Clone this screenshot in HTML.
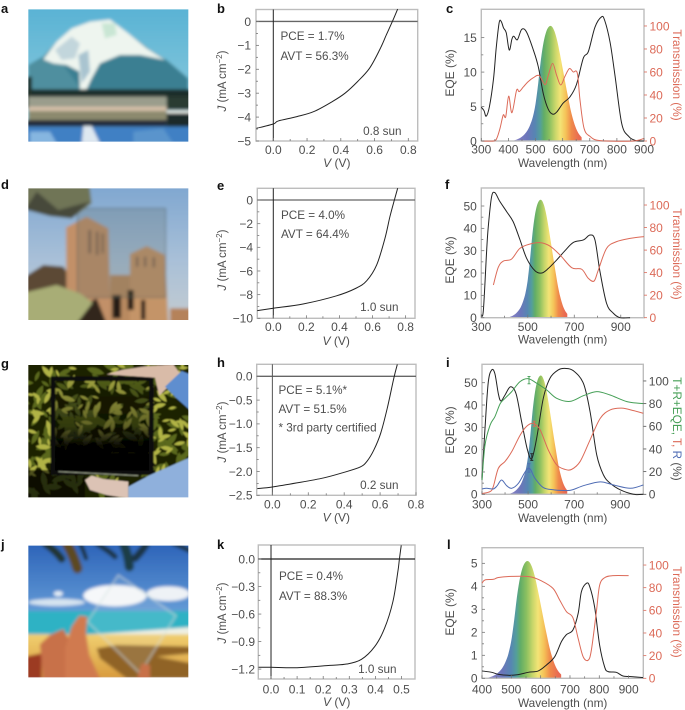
<!DOCTYPE html>
<html lang="en">
<head>
<meta charset="utf-8">
<title>Transparent solar cell panels</title>
<style>
html,body{margin:0;padding:0;background:#fff;width:685px;height:710px;overflow:hidden}
svg{display:block}
text{font-family:"Liberation Sans",sans-serif;fill:#4e4e4e}
</style>
</head>
<body>
<svg id="fig" xmlns="http://www.w3.org/2000/svg" width="685" height="710" viewBox="0 0 685 710">
<defs>
<filter id="soft" x="-5%" y="-5%" width="110%" height="110%"><feGaussianBlur stdDeviation="4.5"/></filter>
<filter id="softG" x="-5%" y="-5%" width="110%" height="110%"><feGaussianBlur stdDeviation="2.4"/></filter>
<clipPath id="clipA"><rect x="85" y="28" width="480" height="397"/></clipPath>
<clipPath id="clipD"><rect x="85" y="565" width="480" height="395"/></clipPath>
<clipPath id="clipG"><rect x="85" y="30" width="480" height="397"/></clipPath>
<clipPath id="clipJ"><rect x="85" y="572" width="480" height="395"/></clipPath>
<linearGradient id="skyA" x1="0" y1="0" x2="0" y2="1"><stop offset="0" stop-color="#58b2d4"/><stop offset="1" stop-color="#9cd2e0"/></linearGradient>
<linearGradient id="skyD" x1="0" y1="0" x2="0" y2="1"><stop offset="0" stop-color="#7ea6d0"/><stop offset=".55" stop-color="#a9c0d8"/><stop offset="1" stop-color="#c4ccd0"/></linearGradient>
<linearGradient id="skyJ" x1="0" y1="0" x2="0" y2="1"><stop offset="0" stop-color="#2b62b8"/><stop offset=".6" stop-color="#6ea6dc"/><stop offset="1" stop-color="#a8cfe6"/></linearGradient>
<linearGradient id="sandJ" x1="0" y1="0" x2="0" y2="1"><stop offset="0" stop-color="#f0cf70"/><stop offset="1" stop-color="#d89a3c"/></linearGradient>
<linearGradient id="darkInner" x1="0" y1="0" x2="0" y2="1"><stop offset="0" stop-color="#000" stop-opacity=".12"/><stop offset=".5" stop-color="#000" stop-opacity=".45"/><stop offset=".72" stop-color="#000" stop-opacity=".95"/><stop offset="1" stop-color="#000" stop-opacity="1"/></linearGradient>
</defs>

<g transform="scale(.33333)" clip-path="url(#clipA)">
<g filter="url(#soft)">
<rect x="70" y="15" width="510" height="425" fill="url(#skyA)"/>
<polygon points="85,195 130,170 170,125 215,85 270,65 330,58 385,100 450,150 500,180 565,235 565,285 85,285" fill="#3a7f92"/>
<polygon points="85,195 130,175 190,195 245,270 85,272" fill="#4f8f9f"/>
<polygon points="130,178 170,125 215,85 270,65 330,58 385,100 440,145 495,180 420,165 360,165 300,190 275,235 258,272 240,272 238,215 200,195 160,190" fill="#eef5ef"/>
<polygon points="165,150 215,110 240,130 225,175 185,180" fill="#c2d6dc"/>
<polygon points="305,70 345,70 350,105 315,115" fill="#c9e6d4"/>
<polygon points="235,165 265,150 270,215 245,250" fill="#a9c4d0"/>
<rect x="75" y="268" width="500" height="24" fill="#1f2e2c"/>
<rect x="78" y="230" width="18" height="95" fill="#20302c"/>
<rect x="85" y="290" width="415" height="32" fill="#9a9d8c"/>
<rect x="500" y="290" width="75" height="40" fill="#2a3a32"/>
<rect x="85" y="320" width="415" height="13" fill="#d4bfa8"/>
<rect x="500" y="332" width="75" height="8" fill="#f2f0e8"/>
<rect x="85" y="333" width="415" height="30" fill="#8c8a6e"/>
<rect x="500" y="340" width="75" height="50" fill="#1f2a2c"/>
<rect x="75" y="360" width="425" height="20" fill="#202c3a"/>
<rect x="75" y="380" width="500" height="55" fill="#3f80c4"/>
<polygon points="250,378 275,378 300,430 245,430" fill="#dfe8f0"/>
<polygon points="90,395 150,395 170,430 90,430" fill="#86b6e0"/>
<polygon points="400,395 490,385 520,430 400,430" fill="#5a94cc"/>
</g>
</g>

<g transform="scale(.33333)" clip-path="url(#clipD)">
<g filter="url(#soft)">
<rect x="70" y="550" width="510" height="420" fill="url(#skyD)"/>
<polygon points="75,830 130,795 190,800 230,860 230,970 75,970" fill="#5c4a34"/>
<polygon points="198,682 260,650 325,685 332,970 200,970" fill="#c29068"/>
<rect x="330" y="825" width="65" height="145" fill="#b98a60"/>
<polygon points="390,762 440,738 495,765 505,970 390,970" fill="#c49468"/>
<rect x="510" y="925" width="65" height="45" fill="#b5825a"/>
<rect x="265" y="690" width="8" height="70" fill="#806250"/>
<rect x="288" y="695" width="7" height="70" fill="#806250"/>
<rect x="305" y="700" width="6" height="60" fill="#806250"/>
<rect x="408" y="770" width="7" height="30" fill="#806250"/>
<rect x="432" y="770" width="7" height="30" fill="#806250"/>
<rect x="458" y="772" width="7" height="30" fill="#806250"/>
<rect x="337" y="885" width="26" height="70" fill="#251c16"/>
<rect x="383" y="870" width="18" height="60" fill="#251c16"/>
<rect x="423" y="900" width="13" height="60" fill="#251c16"/>
<polygon points="240,920 290,895 320,970 230,970" fill="#33281e"/>
<rect x="232" y="625" width="265" height="267" fill="#5a6a60" fill-opacity=".24" stroke="#4e5c58" stroke-width="2"/>
<polygon points="75,555 268,555 275,610 215,655 150,648 75,628" fill="#707556"/>
<polygon points="110,575 175,630 270,605 215,655 150,648 75,628" fill="#47493a"/>
<polygon points="75,878 170,855 240,880 278,908 230,970 75,970" fill="#a8ad76"/>
</g>
</g>

<g transform="translate(0,355) scale(.33333)" clip-path="url(#clipG)">
<g filter="url(#softG)">
<rect x="75" y="20" width="500" height="415" fill="#1b2106"/>
<path id="leafDark" fill="#5a681c"/>
<path id="leafBright" fill="#b0b345"/>
<rect x="165" y="78" width="282" height="272" fill="url(#darkInner)"/>
<rect x="75" y="345" width="180" height="90" fill="#000" fill-opacity=".55"/>
<rect x="159" y="71" width="295" height="282" fill="none" stroke="#07090a" stroke-width="14"/>
<line x1="175" y1="350" x2="415" y2="362" stroke="#9aa08a" stroke-width="3"/>
<polygon points="320,58 365,45 430,35 520,28 542,58 505,95 478,122 465,68" fill="#d9bba8"/>
<polygon points="495,95 545,48 575,60 575,170 530,130" fill="#5f8ecf"/>
<polygon points="255,375 275,362 310,372 385,380 385,430 320,420 270,405" fill="#dcc3b5"/>
<polygon points="385,395 450,360 575,305 575,435 385,435" fill="#8fb0dc"/>
</g>
</g>

<g transform="translate(0,355) scale(.33333)" clip-path="url(#clipJ)">
<g filter="url(#soft)">
<rect x="75" y="560" width="500" height="420" fill="url(#skyJ)"/>
<ellipse cx="345" cy="722" rx="95" ry="32" fill="#f6f8fa"/>
<ellipse cx="505" cy="716" rx="65" ry="22" fill="#eef2f6"/>
<ellipse cx="170" cy="742" rx="85" ry="11" fill="#d6e4f0"/>
<ellipse cx="175" cy="716" rx="14" ry="8" fill="#e4eef6"/>
<rect x="75" y="768" width="500" height="68" fill="#2fb2c4"/>
<polygon points="250,840 575,816 575,838 250,845" fill="#eef0e4"/>
<rect x="75" y="838" width="500" height="135" fill="url(#sandJ)"/>
<polygon points="290,880 350,870 575,875 575,895 470,905 575,925 575,970 380,970 300,910" fill="#906428"/>
<g fill="none" stroke-linecap="round">
<path d="M135,565 Q170,590 185,612" stroke="#223530" stroke-width="22"/>
<path d="M200,565 Q220,600 232,640" stroke="#5c4a22" stroke-width="30"/>
<path d="M240,565 Q250,585 258,610" stroke="#1e2e30" stroke-width="12"/>
</g>
<g fill="none" stroke-linecap="round">
<path d="M290,565 Q330,590 345,605" stroke="#1d3444" stroke-width="16"/>
<path d="M370,565 Q385,600 388,635" stroke="#1f3c46" stroke-width="28"/>
<path d="M440,565 Q425,590 405,610" stroke="#1d3444" stroke-width="22"/>
<path d="M520,565 Q545,575 575,590" stroke="#1d3444" stroke-width="14"/>
</g>
<polygon points="355,660 528,782 420,955 262,800" fill="#e8eef0" fill-opacity=".12" stroke="#cfe0dc" stroke-width="2.5"/>
<polygon points="75,905 125,895 125,975 75,975" fill="#9c3a20"/>
<polygon points="120,868 150,840 190,822 205,850 200,975 130,975" fill="#c8714a"/>
<polygon points="195,880 215,815 238,782 262,785 258,835 268,900 302,975 195,975" fill="#d07a50"/>
<polygon points="410,975 425,925 450,930 450,975" fill="#c8714a"/>
</g>
</g>

<g id="charts"></g>
</svg>

<script>
// ---- J-V curves ----
const bVoltage=[-0.1,0,0.03,0.14,0.24,0.35,0.425,0.5,0.57,0.63,0.67,0.71,0.737];
const bCurrent=[-4.47,-4.29,-4.16,-3.98,-3.77,-3.35,-3.0,-2.51,-1.96,-1.19,-0.56,0.07,0.52];
const eVoltage=[-0.097,0,0.18,0.38,0.5,0.565,0.625,0.675,0.705,0.732,0.752];
const eCurrent=[-9.35,-9.15,-8.79,-8.11,-7.46,-6.82,-5.49,-3.24,-1.41,0,1.0];
const hVoltage=[-0.084,0,0.136,0.285,0.397,0.49,0.528,0.565,0.603,0.64,0.677,0.696];
const hCurrent=[-2.36,-2.325,-2.24,-2.135,-2.02,-1.905,-1.78,-1.55,-1.2,-0.67,-0.03,0.25];
const kVoltage=[-0.048,0,0.1,0.225,0.29,0.346,0.397,0.435,0.467,0.486,0.492,0.499];
const kCurrent=[-1.18,-1.18,-1.185,-1.16,-1.145,-1.095,-0.956,-0.756,-0.465,-0.138,0,0.15];

const bXTicks=[0,0.2,0.4,0.6,0.8];
const bXLabels=["0.0","0.2","0.4","0.6","0.8"];
const bYTicks=[0,-1,-2,-3,-4,-5];
const bYLabels=["0","−1","−2","−3","−4","−5"];
const eYTicks=[0,-2,-4,-6,-8,-10];
const eYLabels=["0","−2","−4","−6","−8","−10"];
const hYTicks=[0,-0.5,-1,-1.5,-2,-2.5];
const hYLabels=["0.0","−0.5","−1.0","−1.5","−2.0","−2.5"];
const kXTicks=[0,0.1,0.2,0.3,0.4,0.5];
const kXLabels=["0.0","0.1","0.2","0.3","0.4","0.5"];
const kYTicks=[0,-0.3,-0.6,-0.9,-1.2];
const kYLabels=["0.0","−0.3","−0.6","−0.9","−1.2"];

// ---- Photopic response (relative) ----
const photopicWave=[420,430,440,450,460,470,480,490,500,510,520,530,540,550,560,570,580,590,600,610,620,630,640,650,660,670];
const photopicRel=[0.004,0.012,0.023,0.038,0.06,0.091,0.139,0.208,0.323,0.503,0.71,0.862,0.954,0.995,0.995,0.952,0.87,0.757,0.631,0.503,0.381,0.265,0.175,0.107,0.061,0.032];

// ---- Panel c ----
const cEqeWave=[300,310,318,330,345,355,366,374,382,392,403,413,420,433,449,467,492,510,529,547,563,578,602,627,651,676,695,719,743,755,775,793,818,843,867,900];
const cEqe=[4.9,4.4,3.6,5.0,9.0,13.5,17.2,17.3,16.4,15.7,13.2,14.8,15.2,14.7,16.2,15.8,13.2,10.8,6.8,4.6,3.9,4.2,5.5,6.4,8.2,12,13,16.5,18,17.5,14.3,9.5,2.5,0.7,0.1,0];
const cTransWave=[300,345,357,369,381,390,401,413,430,440,455,473,492,513,535,547,563,578,593,609,625,639,654,664,679,701,738,860,900];
const cTrans=[0,0,2.3,11,22.6,21,39,24.6,44,43,47,51.6,55,57,49,57,67.5,57,48.7,56.5,63,60,59,35.6,11,4,0.3,0,2.3];
const cXTicks=[300,400,500,600,700,800,900];
const cXLabels=["300","400","500","600","700","800","900"];
const cYTicks=[0,5,10,15];
const cYLabels=["0","5","10","15"];
const transTicks=[0,20,40,60,80,100];
const transLabels=["0","20","40","60","80","100"];

// ---- Panel f ----
const fEqeWave=[300,309,323,330,344,358,380,409,437,466,495,531,560,588,624,660,696,739,768,789,810,839,868,897,940];
const fEqe=[1.2,3.4,30,40.7,54,56,52,47.5,43,35,26.6,21,20,22,25.8,30,33.7,34.8,37,34.8,21,6.4,2,0,0];
const fTransWave=[352,373,395,430,466,510,552,595,639,689,732,760,785,803,839,882,940,1000];
const fTrans=[29,44.7,50.3,52,61.5,65.4,66.6,63.6,55.6,44.4,43,35,32.5,42,61.5,67.5,70.4,72];
const fXTicks=[300,500,700,900];
const fXLabels=["300","500","700","900"];
const fYTicks=[0,10,20,30,40,50];
const fYLabels=["0","10","20","30","40","50"];

// ---- Panel i ----
const iEqeWave=[300,313,327,342,356,371,382,400,424,448,472,497,516,537,566,595,631,660,696,740,769,798,827,856,900,958,1000];
const iEqe=[7,29.5,50,55.7,54,45,41.8,44.5,48.2,45,32.5,20,16,25,43,52,55.7,56.4,55.4,49.7,37,17.6,8.7,5,2,0,0];
const iSumWave=[300,313,335,356,379,400,429,465,501,537,581,624,682,740,798,856,929,1000];
const iSum=[12.6,43.5,61,68.5,80,84.7,90.6,99.4,102,98,92,84.7,82,87,90.6,87.6,81.8,80];
const iTransWave=[300,335,349,371,400,429,465,494,523,552,588,624,660,689,726,769,813,856,907,958,1000];
const iTrans=[0.6,2.4,6.8,23,29,37.6,52,60,62.6,57,39,26,22,22,29,48,67,74.4,76,73.8,71.5];
const iReflWave=[300,320,349,366,385,407,429,458,501,530,566,610,682,740,813,871,943,1000];
const iRefl=[4.7,5.3,4.7,7.6,12.6,7.6,5.3,9.7,23,14,5.9,4,3.5,7.6,11,8.2,5.3,8.2];
const iXTicks=[300,500,700,900];
const iXLabels=["300","500","700","900"];
const iYTicks=[0,10,20,30,40,50];
const iYLabels=["0","10","20","30","40","50"];
const iRightTicks=[0,20,40,60,80,100];
const iRightLabels=["0","20","40","60","80","100"];
const iSumErrWave=[504];
const iSumErrLow=[97.5];
const iSumErrHigh=[104];
const iTransErrWave=[527];
const iTransErrLow=[60];
const iTransErrHigh=[64.5];
const iReflErrWave=[504];
const iReflErrLow=[19.5];
const iReflErrHigh=[27];
const iEqeErrWave=[516];
const iEqeErrLow=[15.2];
const iEqeErrHigh=[18.2];

// ---- Panel l ----
const lEqeWave=[400,433,456,490,524,558,592,620,648,671,688,710,728,739,756,767,784,801,818,830,858,881,915,949];
const lEqe=[0.32,0.26,0.17,0.13,0.16,0.26,0.32,0.58,0.94,1.6,1.9,2.1,2.83,3.77,4.13,4,3.1,1.45,0.5,0.29,0.26,0.1,0.07,0.03];
const lTransWave=[400,410,439,456,501,563,603,642,665,688,710,728,745,762,773,790,801,818,846,900];
const lTrans=[84,86.8,87.4,89,90,89.7,86,79.4,69,58.8,53.5,35,19,16,25,58.8,82,88.8,90.6,90.6];
const lXTicks=[400,500,600,700,800,900];
const lXLabels=["400","500","600","700","800","900"];
const lYTicks=[0,1,2,3,4,5];
const lYLabels=["0","1","2","3","4","5"];

const NS="http://www.w3.org/2000/svg";
const root=document.getElementById("charts");
const RED="#dc6a58", BLACK="#222", GREEN="#459f56", BLUE="#4f6cb4", FRAME="#bdbdbd";
let gradCount=0;

function make(tag,attrs,parent){
  const n=document.createElementNS(NS,tag);
  for(const k in attrs){n.setAttribute(k,attrs[k]);}
  parent.appendChild(n);
  return n;
}
function linear(d0,d1,r0,r1){return v=>r0+(v-d0)*(r1-r0)/(d1-d0);}
function smoothPath(xs,ys,fx,fy){
  const p=xs.map((x,i)=>[fx(x),fy(ys[i])]);
  let d="M"+p[0][0].toFixed(2)+" "+p[0][1].toFixed(2);
  for(let i=0;i<p.length-1;i++){
    const a=p[Math.max(i-1,0)],b=p[i],c=p[i+1],e=p[Math.min(i+2,p.length-1)];
    const c1x=b[0]+(c[0]-a[0])/6,c1y=b[1]+(c[1]-a[1])/6,c2x=c[0]-(e[0]-b[0])/6,c2y=c[1]-(e[1]-b[1])/6;
    d+="C"+c1x.toFixed(2)+" "+c1y.toFixed(2)+" "+c2x.toFixed(2)+" "+c2y.toFixed(2)+" "+c[0].toFixed(2)+" "+c[1].toFixed(2);
  }
  return d;
}
function label(parent,x,y,str,opt){
  const t=make("text",{x:x,y:y,"font-size":(opt&&opt.size)||12,"text-anchor":(opt&&opt.anchor)||"middle"},parent);
  if(opt&&opt.fill){t.style.fill=opt.fill;}
  if(opt&&opt.rotate!==undefined){t.setAttribute("transform","rotate("+opt.rotate+" "+x+" "+y+")");}
  t.textContent=str;
  return t;
}
function panelLetter(str,x,y){
  const t=make("text",{x:x,y:y,"font-size":13,"font-weight":"bold"},root);
  t.style.fill="#111";
  t.textContent=str;
  
  
}
function frame(g,b){
  const r=make("rect",{x:b.l,y:b.t,width:b.r-b.l,height:b.b-b.t,fill:"none",stroke:FRAME,"stroke-width":1.4},g);
  
  
}
function tickMark(g,x1,y1,x2,y2,color){
  const m=make("line",{x1:x1,y1:y1,x2:x2,y2:y2,stroke:color||"#777","stroke-width":0.8},g);
  
  
}
function xAxis(g,b,fx,ticks,labels,off,labelOff,cfgTitle){
  ticks.forEach((v,i)=>{
    tickMark(g,fx(v),b.b,fx(v),b.b-3);
    const t=label(g,fx(v),b.b+off,labels[i]);
    
    
  });
  for(let i=0;i<ticks.length-1;i++){
    const mid=(ticks[i]+ticks[i+1])/2;
    tickMark(g,fx(mid),b.b,fx(mid),b.b-2);
  }
  const tx=cfgTitle(g,b.b+labelOff);
  
  
}
function yAxis(g,b,fy,ticks,labels,xEnd){
  ticks.forEach((v,i)=>{
    tickMark(g,b.l,fy(v),b.l+3,fy(v));
    const t=label(g,xEnd,fy(v)+4.3,labels[i],{anchor:"end"});
    
    
  });
  for(let i=0;i<ticks.length-1;i++){
    const mid=(ticks[i]+ticks[i+1])/2;
    tickMark(g,b.l,fy(mid),b.l+2,fy(mid));
  }
}
function rightAxis(g,b,fy,ticks,labels,color){
  ticks.forEach((v,i)=>{
    tickMark(g,b.r,fy(v),b.r+3,fy(v),color);
    const t=label(g,b.r+5.5,fy(v)+4.3,labels[i],{anchor:"start",fill:color});
    
    
  });
}

function jvPanel(c){
  const g=make("g",{},root);
  
  
  const fx=linear(c.xd[0],c.xd[1],c.box.l,c.box.r), fy=linear(c.yd[0],c.yd[1],c.box.b,c.box.t);
  frame(g,c.box);
  const h0=make("line",{x1:c.box.l,x2:c.box.r,y1:fy(0),y2:fy(0),stroke:c.id==="k"?"#222":"#666","stroke-width":1.3},g);
  
  
  const v0=make("line",{x1:fx(0),x2:fx(0),y1:c.box.t,y2:c.box.b,stroke:c.id==="h"?"#555":"#222","stroke-width":1},g);
  
  
  const curve=make("path",{d:smoothPath(c.v,c.j,fx,fy),fill:"none",stroke:BLACK,"stroke-width":1},g);
  
  
  yAxis(g,c.box,fy,c.yt,c.yl,c.yEnd);
  xAxis(g,c.box,fx,c.xt,c.xl,c.tickOff,c.labelOff,(gg,y)=>{
    const t=make("text",{x:(c.box.l+c.box.r)/2,y:y,"font-size":12,"text-anchor":"middle"},gg);
    t.innerHTML='<tspan font-style="italic">V</tspan> (V)';
    return t;
  });
  const yl=make("text",{x:c.yLabelX,y:c.yLabelY,"font-size":11.5,"text-anchor":"middle",transform:"rotate(-90 "+c.yLabelX+" "+c.yLabelY+")"},g);
  yl.innerHTML='<tspan font-style="italic">J</tspan> (mA cm<tspan dy="-4" font-size="8">−2</tspan><tspan dy="4">)</tspan>';
  
  
  c.notes.forEach((n,i)=>{
    const t=label(g,c.noteX,c.noteY[i],n,{anchor:"start",size:11.7});
    
    
  });
  const s=label(g,c.sunX,c.sunY,c.sun,{anchor:"end",size:11.7});
  
  
}

function photopicFill(g,c,fx,fy){
  const id="photopic"+(gradCount++);
  const grad=make("linearGradient",{id:id,gradientUnits:"userSpaceOnUse",x1:fx(430),x2:fx(660),y1:0,y2:0},g);
  const stops=[[0,"#8480c4"],[.17,"#6b76ba"],[.3,"#5686b2"],[.38,"#549f9a"],[.44,"#62ad66"],[.53,"#8cc060"],[.62,"#c8d66a"],[.7,"#f3e476"],[.79,"#f5c258"],[.88,"#ef8a4a"],[1,"#e96a52"]];
  stops.forEach(s=>{make("stop",{offset:s[0],"stop-color":s[1]},grad);});
  const top=smoothPath(photopicWave,photopicRel.map(v=>v*c.peak),fx,fy);
  const base=" L"+fx(photopicWave[photopicWave.length-1])+" "+c.box.b+" L"+fx(photopicWave[0])+" "+c.box.b+"Z";
  const f=make("path",{d:top+base,fill:"url(#"+id+")"},g);
  
  
}

function spectrumPanel(c){
  const g=make("g",{},root);
  
  
  const fx=linear(c.xd[0],c.xd[1],c.box.l,c.box.r);
  const fy=linear(0,c.yMax,c.box.b,c.box.t);
  const fr=linear(0,c.rMax,c.box.b,c.box.t);
  photopicFill(g,c,fx,fy);
  frame(g,c.box);
  c.series.forEach(s=>{
    const sy=s.right?fr:fy;
    const p=make("path",{d:smoothPath(s.x,s.y,fx,sy),fill:"none",stroke:s.color,"stroke-width":1},g);
    
    
    if(s.ex){
      s.ex.forEach((w,i)=>{
        const e=make("path",{d:"M"+(fx(w)-1.5)+" "+sy(s.hi[i])+"h3M"+fx(w)+" "+sy(s.hi[i])+"V"+sy(s.lo[i])+"M"+(fx(w)-1.5)+" "+sy(s.lo[i])+"h3",fill:"none",stroke:s.color,"stroke-width":0.9},g);
        
        
      });
    }
  });
  yAxis(g,c.box,fy,c.yt,c.yl,c.box.l-4.5);
  rightAxis(g,c.box,fr,c.rt,c.rl,c.rColor);
  xAxis(g,c.box,fx,c.xt,c.xl,c.tickOff,c.labelOff,(gg,y)=>label(gg,(c.box.l+c.box.r)/2,y,"Wavelength (nm)",{size:11.8}));
  const yl=label(g,c.eqeX,c.eqeY,"EQE (%)",{rotate:-90});
  
  
  const rl=make("text",{x:c.rLabelX,y:c.rLabelY,"font-size":11.8,"text-anchor":"middle",transform:"rotate(90 "+c.rLabelX+" "+c.rLabelY+")"},g);
  rl.innerHTML=c.rTitle;
  
  
}

panelLetter("a",1,13);panelLetter("b",217,13);panelLetter("c",446,13);
panelLetter("d",1,189);panelLetter("e",217,190);panelLetter("f",445,189);
panelLetter("g",1,368);panelLetter("h",217,367);panelLetter("i",446,367);
panelLetter("j",1,549);panelLetter("k",217,549);panelLetter("l",447,549);

jvPanel({id:"b",box:{l:256,r:417.7,t:9.5,b:141},xd:[-0.1025,0.8557],yd:[-5,0.5],v:bVoltage,j:bCurrent,xt:bXTicks,xl:bXLabels,yt:bYTicks,yl:bYLabels,yEnd:251,tickOff:13,labelOff:26,yLabelX:226,yLabelY:81,notes:["PCE = 1.7%","AVT = 56.3%"],noteX:280.5,noteY:[40,60],sun:"0.8 sun",sunX:401.5,sunY:135});
jvPanel({id:"e",box:{l:257.3,r:415,t:188.3,b:318.3},xd:[-0.0967,0.8567],yd:[-10,0.99],v:eVoltage,j:eCurrent,xt:bXTicks,xl:bXLabels,yt:eYTicks,yl:eYLabels,yEnd:253,tickOff:12.7,labelOff:26.5,yLabelX:226,yLabelY:260,notes:["PCE = 4.0%","AVT = 64.4%"],noteX:281,noteY:[219,238],sun:"1.0 sun",sunX:398.5,sunY:311});
jvPanel({id:"h",box:{l:256.7,r:416,t:364.3,b:495.3},xd:[-0.0873,0.8],yd:[-2.5,0.252],v:hVoltage,j:hCurrent,xt:bXTicks,xl:bXLabels,yt:hYTicks,yl:hYLabels,yEnd:252.5,tickOff:13,labelOff:26,yLabelX:226,yLabelY:432,notes:["PCE = 5.1%*","AVT = 51.5%","* 3rd party certified"],noteX:278.5,noteY:[394,413,431.5],sun:"0.2 sun",sunX:398.5,sunY:489});
jvPanel({id:"k",box:{l:258.3,r:415,t:545,b:679},xd:[-0.0487,0.5517],yd:[-1.308,0.153],v:kVoltage,j:kCurrent,xt:kXTicks,xl:kXLabels,yt:kYTicks,yl:kYLabels,yEnd:255,tickOff:14.5,labelOff:27,yLabelX:226,yLabelY:613,notes:["PCE = 0.4%","AVT = 88.3%"],noteX:279,noteY:[580,600],sun:"1.0 sun",sunX:396.5,sunY:673});

const transTitle='Transmission (%)';
spectrumPanel({id:"c",peak:16.7,box:{l:481.3,r:644,t:9.3,b:141},xd:[300,900],yMax:19.11,rMax:114.5,xt:cXTicks,xl:cXLabels,yt:cYTicks,yl:cYLabels,rt:transTicks,rl:transLabels,rColor:RED,tickOff:12.5,labelOff:26,eqeX:454,eqeY:73,rLabelX:673,rLabelY:75,rTitle:'<tspan style="fill:'+RED+'">'+transTitle+'</tspan>',
  series:[{name:"eqe-curve",x:cEqeWave,y:cEqe,color:BLACK},{name:"transmission-curve",x:cTransWave,y:cTrans,color:RED,right:true}]});
spectrumPanel({id:"f",peak:52.8,box:{l:481.3,r:644,t:188,b:317.7},xd:[300,1000],yMax:58.06,rMax:115.1,xt:fXTicks,xl:fXLabels,yt:fYTicks,yl:fYLabels,rt:transTicks,rl:transLabels,rColor:RED,tickOff:13.3,labelOff:26,eqeX:454,eqeY:260,rLabelX:673,rLabelY:254,rTitle:'<tspan style="fill:'+RED+'">'+transTitle+'</tspan>',
  series:[{name:"eqe-curve",x:fEqeWave,y:fEqe,color:BLACK},{name:"transmission-curve",x:fTransWave,y:fTrans,color:RED,right:true}]});
spectrumPanel({id:"i",peak:53.2,box:{l:482,r:643.3,t:364.3,b:494.3},xd:[300,1000],yMax:58.24,rMax:114.7,xt:iXTicks,xl:iXLabels,yt:iYTicks,yl:iYLabels,rt:iRightTicks,rl:iRightLabels,rColor:"#4e4e4e",tickOff:14,labelOff:27.5,eqeX:454,eqeY:430,rLabelX:673,rLabelY:429,rTitle:'<tspan style="fill:'+GREEN+'">T+R+EQE,</tspan> <tspan style="fill:'+RED+'">T,</tspan> <tspan style="fill:'+BLUE+'">R</tspan> (%)',
  series:[
   {name:"eqe-curve",x:iEqeWave,y:iEqe,color:BLACK,ex:iEqeErrWave,lo:iEqeErrLow,hi:iEqeErrHigh},
   {name:"sum-curve",x:iSumWave,y:iSum,color:GREEN,right:true,ex:iSumErrWave,lo:iSumErrLow,hi:iSumErrHigh},
   {name:"transmission-curve",x:iTransWave,y:iTrans,color:RED,right:true,ex:iTransErrWave,lo:iTransErrLow,hi:iTransErrHigh},
   {name:"reflection-curve",x:iReflWave,y:iRefl,color:BLUE,right:true,ex:iReflErrWave,lo:iReflErrLow,hi:iReflErrHigh}]});
spectrumPanel({id:"l",peak:5.1,box:{l:482,r:643.3,t:547.7,b:678.3},xd:[400,950],yMax:5.68,rMax:115.3,xt:lXTicks,xl:lXLabels,yt:lYTicks,yl:lYLabels,rt:transTicks,rl:transLabels,rColor:RED,tickOff:15,labelOff:28.5,eqeX:454,eqeY:612,rLabelX:673,rLabelY:612,rTitle:'<tspan style="fill:'+RED+'">'+transTitle+'</tspan>',
  series:[{name:"eqe-curve",x:lEqeWave,y:lEqe,color:BLACK},{name:"transmission-curve",x:lTransWave,y:lTrans,color:RED,right:true}]});

// foliage texture for the photo panel (decoration, not chart data)
(function(){
  let seed=12345;
  function rnd(){seed=(seed*1103515+12345)&2147483647;return seed/2147483647;}
  function leaves(count,len,wid,yMax){
    let d="";
    for(let i=0;i<count;i++){
      const x=85+rnd()*480,y=30+rnd()*(yMax-30),a=rnd()*6.28,l=len*(.6+rnd()*.7);
      const dx=Math.cos(a)*l,dy=Math.sin(a)*l,nx=-dy*wid,ny=dx*wid;
      d+="M"+x.toFixed(0)+" "+y.toFixed(0)+"Q"+(x+dx/2+nx).toFixed(0)+" "+(y+dy/2+ny).toFixed(0)+" "+(x+dx).toFixed(0)+" "+(y+dy).toFixed(0)+"Q"+(x+dx/2-nx).toFixed(0)+" "+(y+dy/2-ny).toFixed(0)+" "+x.toFixed(0)+" "+y.toFixed(0)+"Z";
    }
    return d;
  }
  document.getElementById("leafDark").setAttribute("d",leaves(220,46,.34,420));
  document.getElementById("leafBright").setAttribute("d",leaves(170,36,.32,370));
})();
</script>
</body>
</html>
